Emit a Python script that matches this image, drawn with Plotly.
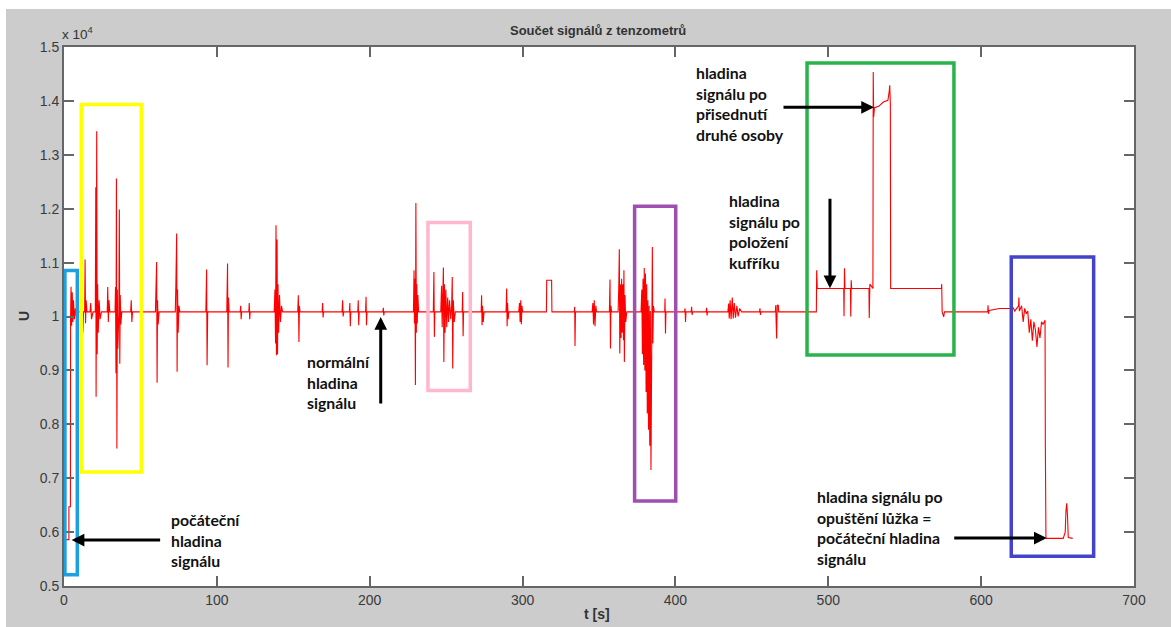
import plotly.graph_objects as go

# ---------------- data ----------------
t_s = [
    0.5, 3.2, 3.2, 4.2, 4.3, 4.6, 5.0, 5.4, 5.8, 6.2, 6.8, 7.4, 8.0, 8.6, 9.2,
    11.5, 12.0, 12.3, 12.8, 13.5, 13.8, 14.1, 14.5, 15.0, 17.0, 17.5, 18.0, 19.0,
    20.5, 20.8, 21.0, 21.4, 21.7, 22.0, 22.4, 23.0, 23.6, 24.5, 28.3, 28.6, 29.0, 29.4, 30.0,
    33.4, 33.7, 34.0, 34.3, 34.6, 34.9, 35.2, 35.9, 36.2, 36.5, 36.8, 37.2, 37.8, 43.6, 44.0, 44.4, 44.8,
    59.8, 60.2, 60.6, 60.9, 61.2, 61.6, 62.2, 72.8, 73.2, 73.7, 74.0, 74.3, 74.7, 75.2, 75.8,
    92.8, 93.3, 93.6, 94.0, 106.5, 107.0, 107.3, 107.6, 108.0, 115.3, 115.6, 115.9, 116.2, 120.9, 121.2, 121.5, 121.8,
    137.5, 138.0, 138.4, 138.7, 139.0, 139.4, 139.7, 140.0, 140.4, 141.0, 141.6, 142.3, 143.0,
    152.9, 153.3, 153.7, 154.0, 154.4, 168.9, 169.2, 169.5, 169.8, 181.9, 182.3, 182.6, 183.0,
    186.7, 187.0, 187.3, 187.6, 192.2, 192.5, 192.8, 193.1, 197.3, 197.6, 197.9, 198.2, 208.6, 208.9, 209.2, 209.5,
    228.6, 229.0, 229.3, 229.6, 229.9, 230.2, 230.5, 230.8, 231.1, 231.5, 232.0, 241.6, 242.0, 242.3, 242.6,
    246.5, 247.0, 247.4, 247.8, 248.2, 248.5, 248.9, 249.3, 249.8, 250.4, 251.0, 251.6, 252.2, 253.0, 253.6, 254.0, 254.3, 254.7, 255.3, 256.0,
    260.5, 260.8, 261.1, 261.4, 272.9, 273.2, 273.5, 273.8, 274.3, 274.8, 289.2, 289.6, 289.9, 290.2, 290.6, 291.0,
    297.5, 298.0, 298.4, 298.8, 299.2, 299.6, 300.0, 315.6, 315.8, 319.0, 319.2, 333.8, 334.1, 334.3, 334.6,
    345.5, 346.0, 346.4, 346.9, 347.4, 347.9, 348.4, 356.8, 357.2, 357.5, 357.8, 358.2,
    362.5, 362.9, 363.3, 363.6, 364.0, 364.4, 364.8, 365.2, 365.6, 366.0, 366.3, 366.6, 367.0, 367.5, 368.2,
    377.5, 378.0, 378.4, 378.8, 379.2, 379.6, 380.0, 380.4, 380.8, 381.2, 381.6, 382.0, 382.4, 382.8, 383.2, 383.6, 384.0, 384.4, 384.9, 385.2, 385.6, 386.2,
    393.0, 393.2, 393.5, 393.8, 406.0, 406.3, 406.6, 406.9, 410.3, 410.6, 410.9, 411.2, 420.1, 420.4, 420.7, 421.0,
    434.3, 434.8, 435.2, 435.8, 436.4, 437.2, 437.8, 438.5, 439.3, 440.2, 441.0, 442.0, 443.3,
    455.0, 455.3, 455.6, 455.9, 465.4, 465.6, 466.2, 466.6, 467.3, 467.5,
    492.2, 492.4, 492.8, 510.1, 510.3, 510.6, 510.9, 514.5, 514.7, 515.0, 515.3, 526.6, 526.8, 527.2, 529.2, 529.4, 529.7, 530.2, 533.0, 536.0, 539.0, 539.8, 540.2, 540.6, 540.8, 574.0, 574.2, 574.5, 575.5, 576.0,
    595.0, 604.3, 604.5, 604.8, 605.2, 612.0, 619.0, 621.0, 622.0, 624.5, 624.7, 625.0, 626.5, 627.5, 628.5, 629.5, 630.5, 631.5, 632.5, 633.5, 634.5, 635.5, 636.5, 637.5, 638.5, 639.5, 640.5, 641.8, 642.0, 642.4, 653.7, 655.0, 655.5, 656.0, 656.5, 657.0, 659.9,
]
u_s = [
    5860, 5860, 6470, 6470, 9950, 10550, 9830, 10450, 9900, 10300, 9950, 10150, 10000, 10200, 10085,
    10085, 10350, 9700, 10085, 10085, 11057, 9876, 10300, 10085, 10085, 10250, 9950, 10085,
    10085, 12400, 8510, 13436, 9300, 10600, 9700, 10300, 9950, 10085, 10085, 10549, 9900, 10300, 10085,
    10085, 10549, 8949, 12558, 7553, 10500, 9400, 10085, 11987, 9124, 10400, 9850, 10085, 10085, 10300, 9900, 10085,
    10085, 10400, 11012, 8769, 10300, 9850, 10085, 10085, 10600, 11540, 8973, 10500, 9700, 10200, 10085,
    10085, 10871, 9097, 10085, 10085, 10983, 9054, 10350, 10085, 10085, 10200, 9950, 10085, 10085, 10250, 9950, 10085,
    10085, 10500, 9500, 11694, 9283, 11427, 9300, 10600, 9700, 10400, 9900, 10200, 10085,
    10085, 10395, 9529, 10200, 10085, 10085, 10250, 9980, 10085, 10085, 10302, 10000, 10085,
    10085, 10252, 9820, 10085, 10085, 10302, 9838, 10085, 10085, 10365, 9838, 10085, 10085, 10160, 10020, 10085,
    10085, 10858, 9870, 10700, 8727, 12106, 9700, 10600, 9870, 10400, 10085, 10085, 10827, 9622, 10085,
    10085, 10569, 9800, 10700, 10909, 9158, 10600, 9700, 10500, 9800, 10350, 9900, 10300, 9950, 10200, 10734, 9035, 10300, 9900, 10085,
    10085, 10456, 9635, 10085, 10085, 10395, 9838, 10200, 9900, 10085, 10085, 10519, 9820, 10250, 9950, 10085,
    10085, 10250, 9900, 10302, 9857, 10200, 10085, 10085, 10673, 10673, 10085, 10085, 10178, 9455, 10085,
    10085, 10250, 9850, 10302, 9820, 10200, 10085, 10085, 10685, 9407, 10200, 10085,
    10085, 10500, 11247, 9314, 10600, 9600, 10700, 9700, 10600, 9560, 10858, 9158, 10400, 9900, 10085,
    10085, 10500, 9300, 10700, 9100, 10900, 9000, 10800, 8600, 10600, 8200, 10300, 7900, 10200, 7600, 10100, 7150, 9800, 11290, 9500, 10200, 10085,
    10085, 10334, 9685, 10085, 10085, 10150, 9900, 10085, 10085, 10180, 10030, 10085, 10085, 10160, 10020, 10085,
    10085, 10241, 9963, 10300, 9950, 10352, 9963, 10250, 9980, 10200, 10000, 10150, 10085,
    10085, 10150, 10030, 10085, 10085, 10210, 9592, 10210, 10210, 10085,
    10085, 10858, 10519, 10519, 10005, 10895, 10519, 10519, 10000, 10673, 10519, 10519, 9974, 10600, 10519, 14535, 13700, 13875, 13900, 13980, 14010, 14163, 14288, 13950, 10519, 10519, 10600, 10085, 9993, 10085,
    10085, 10085, 10210, 10050, 10110, 10148, 10150, 10160, 10100, 10200, 10352, 10100, 10200, 9900, 10150, 10050, 10100, 9700, 9950, 9550, 9900, 9750, 9436, 9800, 9600, 9900, 9850, 9931, 7645, 5884, 5884, 6000, 6400, 6533, 6300, 5900, 5884,
]
assert len(t_s) == len(u_s)

x_ticks = [0, 100, 200, 300, 400, 500, 600, 700]
y_ticks = [5000, 6000, 7000, 8000, 9000, 10000, 11000, 12000, 13000, 14000, 15000]
y_tick_labels = ["0.5", "0.6", "0.7", "0.8", "0.9", "1", "1.1", "1.2", "1.3", "1.4", "1.5"]

# highlight boxes: x0, x1, y0, y1, colour
box_x0 = [0.6, 11.3, 238.1, 373.3, 486.1, 619.7]
box_x1 = [8.7, 50.6, 265.8, 400.2, 582.2, 673.6]
box_y0 = [5210, 7113, 8628, 6576, 9288, 5550]
box_y1 = [10855, 13932, 11745, 12045, 14705, 11105]
box_col = ["#1ba1e2", "#ffff00", "#ffb6cf", "#9e4fb0", "#2bb34b", "#4343cc"]

# annotation texts (x, y of left-middle) and arrows (tip x, tip y, tail offset px)
note_text = [
    "hladina<br>signálu po<br>přisednutí<br>druhé osoby",
    "hladina<br>signálu po<br>položení<br>kufříku",
    "normální<br>hladina<br>signálu",
    "počáteční<br>hladina<br>signálu",
    "hladina signálu po<br>opuštění lůžka =<br>počáteční hladina<br>signálu",
]
note_x = [412.0, 433.6, 157.5, 68.5, 491.6]
note_y = [13958, 11581, 8782, 5853, 6077]
arrow_x = [529.9, 501.1, 207.2, 5.0, 642.9]
arrow_y = [13880, 10525, 9993, 5853, 5890]
arrow_ax = [-92, 0, 0, 90, -94]
arrow_ay = [0, -91, 88, 0, 0]

# ---------------- figure ----------------
L, R, T, B = 64, 37, 47, 41
W, H = 1171, 627
PW, PH = W - L - R, H - T - B

def px(xp):
    return (xp - L) / PW

def py(yp):
    return (H - B - yp) / PH

fig = go.Figure()
fig.add_trace(go.Scatter(x=t_s, y=u_s, mode="lines",
                         line=dict(color="#ff0000", width=1.1), hoverinfo="skip",
                         showlegend=False))

for x0, x1, y0, y1, c in zip(box_x0, box_x1, box_y0, box_y1, box_col):
    fig.add_shape(type="rect", xref="x", yref="y", x0=x0, x1=x1, y0=y0, y1=y1,
                  line=dict(color=c, width=3.5), fillcolor="rgba(0,0,0,0)", layer="above")

# white border strips of the screenshot
fig.add_shape(type="rect", xref="paper", yref="paper", x0=px(0), x1=px(6), y0=py(H), y1=py(0),
              line=dict(width=0), fillcolor="white", layer="above")
fig.add_shape(type="rect", xref="paper", yref="paper", x0=px(0), x1=px(W), y0=py(9), y1=py(0),
              line=dict(width=0), fillcolor="white", layer="above")

note_font = dict(family="Lato", size=15.8, color="#111111")
for txt, x, y in zip(note_text, note_x, note_y):
    fig.add_annotation(x=x, y=y, xref="x", yref="y", text="<b>" + txt.replace("<br>", "</b><br><b>") + "</b>",
                       showarrow=False, xanchor="left", yanchor="middle", align="left",
                       font=note_font)
for x, y, ax, ay in zip(arrow_x, arrow_y, arrow_ax, arrow_ay):
    fig.add_annotation(x=x, y=y, xref="x", yref="y", text="", showarrow=True,
                       ax=ax, ay=ay, arrowhead=2, arrowsize=0.85, arrowwidth=3,
                       arrowcolor="#000000")

lab_font = dict(family="Liberation Sans", size=14, color="#333333")
fig.add_annotation(x=px(598), y=py(31), xref="paper", yref="paper",
                   text="<b>Součet signálů z tenzometrů</b>", showarrow=False,
                   xanchor="center", yanchor="middle",
                   font=dict(family="Liberation Sans", size=13, color="#333333"))
fig.add_annotation(x=px(597), y=py(614), xref="paper", yref="paper",
                   text="<b>t [s]</b>", showarrow=False, xanchor="center", yanchor="middle",
                   font=lab_font)
fig.add_annotation(x=px(24), y=py(316), xref="paper", yref="paper",
                   text="<b>U</b>", showarrow=False, textangle=-90,
                   xanchor="center", yanchor="middle", font=lab_font)
fig.add_annotation(x=px(60), y=py(33), xref="paper", yref="paper",
                   text="x 10<sup>4</sup>", showarrow=False, xanchor="left", yanchor="middle",
                   font=dict(family="Liberation Sans", size=13.5, color="#333333"))

axis_common = dict(showline=True, linecolor="#666666", linewidth=2, mirror="ticks",
                   ticks="inside", ticklen=10, tickwidth=1.5, tickcolor="#666666",
                   showgrid=False, zeroline=False,
                   tickfont=dict(family="Liberation Sans", size=14, color="#3a3a3a"))
fig.update_xaxes(range=[0, 700], tickvals=x_ticks, ticktext=[str(v) for v in x_ticks],
                 **axis_common)
fig.update_yaxes(range=[5000, 15000], tickvals=y_ticks, ticktext=y_tick_labels,
                 **axis_common)

fig.update_layout(width=W, height=H, margin=dict(l=L, r=R, t=T, b=B),
                  paper_bgcolor="#cccccc", plot_bgcolor="#ffffff",
                  showlegend=False)

fig.write_html("out.html")
